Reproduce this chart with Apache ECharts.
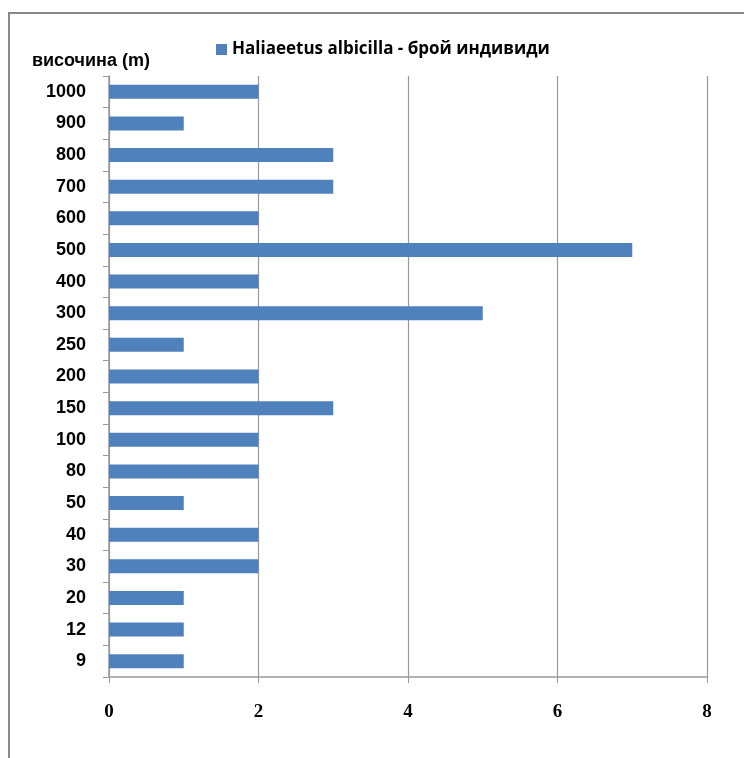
<!DOCTYPE html>
<html><head><meta charset="utf-8">
<script src="https://cdn.jsdelivr.net/npm/echarts@6/dist/echarts.min.js"></script>
<style>html,body{margin:0;padding:0;background:#fff}#c{width:744px;height:758px;position:relative}
#frame{position:absolute;left:8px;top:12px;width:760px;height:800px;border-left:2px solid #888;border-top:2px solid #888;box-sizing:border-box;pointer-events:none}</style>
</head><body><div id="c"></div><div id="frame"></div>
<script>
const categories = ['9','12','20','30','40','50','80','100','150','200','250','300','400','500','600','700','800','900','1000'];
const values = [1,1,1,2,2,1,2,2,3,2,1,5,2,7,2,3,3,1,2];
const seriesName = 'Haliaeetus albicilla - брой индивиди';
const yAxisName = 'височина (m)';

const chart = echarts.init(document.getElementById('c'));
chart.setOption({
  animation:false,
  backgroundColor:'transparent',
  legend:{show:true,left:211,top:36,itemWidth:11,itemHeight:11,itemGap:7,icon:'rect',
    textStyle:{fontFamily:'Open Sans',fontWeight:'bold',fontSize:17,color:'#000'},data:[seriesName]},
  grid:{left:109,right:37,top:76,bottom:81,containLabel:false},
  xAxis:{type:'value',min:0,max:8,interval:2,
    axisLine:{show:true,lineStyle:{color:'#999',width:1.5}},
    axisTick:{show:true,length:6,lineStyle:{color:'#999'}},
    splitLine:{show:true,lineStyle:{color:'#999',width:1.2}},
    axisLabel:{margin:26,fontFamily:'Liberation Serif',fontWeight:'bold',fontSize:19,color:'#000'}},
  yAxis:{type:'category',data:categories,name:yAxisName,nameLocation:'end',nameGap:6,
    nameTextStyle:{fontFamily:'Liberation Sans',fontWeight:'bold',fontSize:18,color:'#000',align:'right',padding:[0,-41,0,0]},
    axisLine:{show:true,lineStyle:{color:'#999',width:1.5}},
    axisTick:{show:true,length:6,inside:false,lineStyle:{color:'#999'}},
    axisLabel:{margin:23,fontFamily:'Liberation Sans',fontWeight:'bold',fontSize:18,color:'#000'}},
  series:[{name:seriesName,type:'bar',data:values,barWidth:14,itemStyle:{color:'#4F81BD'}}]
});
</script></body></html>
